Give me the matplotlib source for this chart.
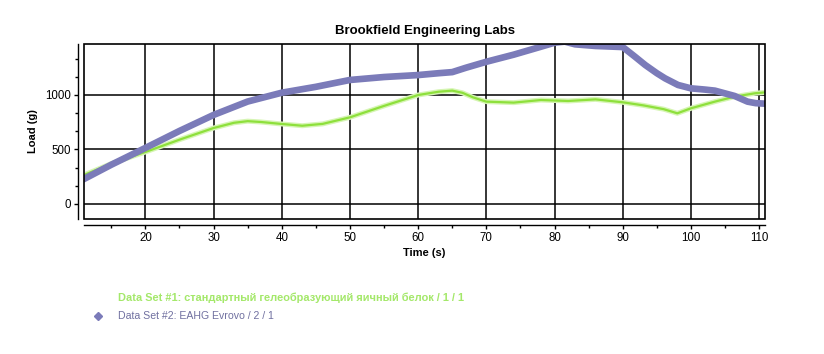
import matplotlib
matplotlib.use("Agg")
import matplotlib.pyplot as plt
from matplotlib.ticker import MultipleLocator
from matplotlib.patches import Rectangle
from matplotlib.lines import Line2D

plt.rcParams['font.family'] = ['Liberation Sans', 'DejaVu Sans']

title = "Brookfield Engineering Labs"
xlabel = "Time (s)"
ylabel = "Load (g)"
label1 = "Data Set #1: стандартный гелеобразующий яичный белок / 1 / 1"
label2 = "Data Set #2: EAHG Evrovo / 2 / 1"

t_purple = [11, 15, 20, 25, 30, 35, 40, 45, 50, 55, 60, 63, 65, 67, 70, 74, 78, 80,
            81.5, 83, 86, 88, 90, 91.8, 93.3, 95, 96.2, 98.1, 100, 102, 103.5, 106.4,
            108.3, 109.5, 111]
load_purple = [229, 360, 514, 670, 817, 940, 1021, 1075, 1138, 1165, 1183, 1200, 1210,
               1250, 1305, 1370, 1443, 1480, 1490, 1465, 1450, 1445, 1440, 1351, 1275,
               1200, 1153, 1092, 1061, 1050, 1040, 991, 939, 925, 920]

t_green = [11, 15, 20, 25, 30, 33, 35, 37, 40, 43, 46, 50, 55, 60, 63, 65, 66.5, 68,
           70, 74, 78, 82, 86, 90, 93, 96, 98, 100, 103.5, 106.4, 109.4, 111]
load_green = [266, 370, 477, 590, 697, 745, 760, 752, 734, 718, 735, 795, 900, 1000,
              1030, 1040, 1020, 979, 939, 930, 954, 945, 960, 933, 905, 870, 832, 878,
              939, 985, 1016, 1025]

purple = "#7B7BB9"
green = "#8EE03C"

fig = plt.figure(figsize=(8.24, 3.54), dpi=100)
ax = fig.add_axes([84/824, 1-219/354, (765.3-84)/824, (219-44)/354])

ax.plot(t_green, load_green, color="#d6f5b4", lw=3.6, zorder=3)
ax.plot(t_green, load_green, color=green, lw=1.6, zorder=4)
ax.plot(t_purple, load_purple, color=purple, lw=4.8, zorder=5)

ax.set_xlim(11, 110.9)
ax.set_ylim(-138, 1468)
ax.set_xticks([20, 30, 40, 50, 60, 70, 80, 90, 100, 110])
ax.set_yticks([0, 500, 1000])
ax.xaxis.set_minor_locator(MultipleLocator(5))
ax.yaxis.set_minor_locator(MultipleLocator(500/3))
ax.grid(True, which='major', color='black', lw=1.1)
ax.set_axisbelow(True)

for s in ['top', 'right']:
    ax.spines[s].set_visible(False)
for s in ['left', 'bottom']:
    ax.spines[s].set_position(('outward', 4))
    ax.spines[s].set_linewidth(1.0)
ax.add_patch(Rectangle((0, 0), 1, 1, transform=ax.transAxes, fill=False,
                       edgecolor='black', lw=1.2, clip_on=False, zorder=6))

ax.tick_params(which='major', length=3, width=1, labelsize=8.3, pad=2.5, color='black')
ax.tick_params(which='minor', length=2.2, width=1, color='black')

ax.set_title(title, fontsize=9.5, fontweight='bold', pad=7)
ax.set_xlabel(xlabel, fontsize=8, fontweight='bold', labelpad=3)
ax.set_ylabel(ylabel, fontsize=8, fontweight='bold', labelpad=5)

fig.text(118/824, 1-298/354, label1, fontsize=7.9, color="#A4E86A", fontweight='bold',
         va='center', ha='left')
fig.text(118/824, 1-316/354, label2, fontsize=7.6, color="#7070A0",
         va='center', ha='left')
fig.add_artist(Line2D([98/824], [1-316/354], marker='D', markersize=4,
                      color=purple, transform=fig.transFigure, linestyle='none'))

fig.savefig("out.png", dpi=100)
